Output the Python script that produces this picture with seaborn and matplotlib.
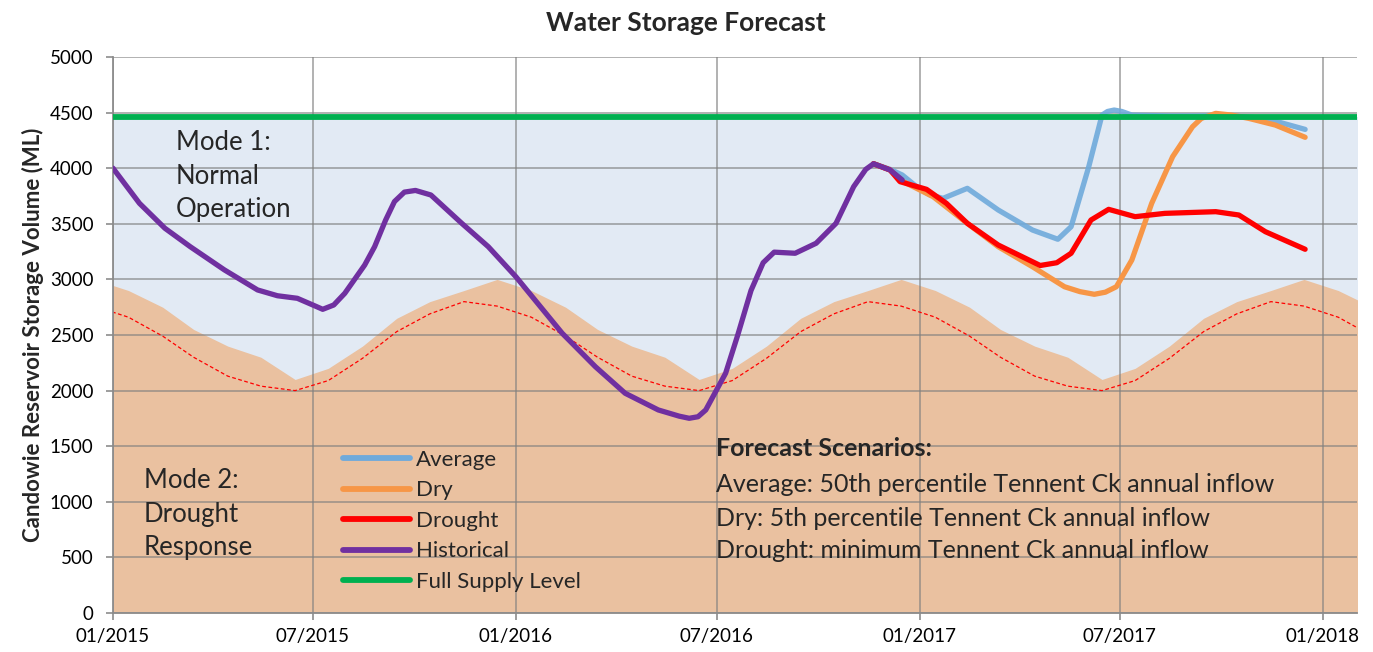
import matplotlib
matplotlib.use('Agg')
import matplotlib.pyplot as plt
import matplotlib.dates as mdates
import pandas as pd
import seaborn as sns

# --- data ---
hist_dates = ['2015-01-01', '2015-01-25', '2015-02-17', '2015-03-12', '2015-04-12',
              '2015-05-12', '2015-05-30', '2015-06-17', '2015-07-01', '2015-07-10',
              '2015-07-20', '2015-07-30', '2015-08-17', '2015-08-26', '2015-09-05',
              '2015-09-13', '2015-09-22', '2015-10-02', '2015-10-16', '2015-11-13',
              '2015-12-07', '2016-01-01', '2016-02-12', '2016-03-13', '2016-04-09',
              '2016-05-09', '2016-05-28', '2016-06-06', '2016-06-14', '2016-06-21',
              '2016-07-09', '2016-07-20', '2016-08-01', '2016-08-12', '2016-08-22',
              '2016-09-10', '2016-09-29', '2016-10-17', '2016-11-02', '2016-11-13',
              '2016-11-20', '2016-12-05', '2016-12-16']
hist_values = [4000, 3684, 3460, 3294, 3085,
               2905, 2853, 2830, 2770, 2731,
               2770, 2875, 3129, 3294, 3534,
               3700, 3785, 3800, 3759, 3504,
               3294, 3024, 2515, 2215, 1976,
               1826, 1770, 1751, 1765, 1826,
               2156, 2500, 2900, 3150, 3245,
               3235, 3325, 3504, 3834, 3990,
               4040, 3984, 3894]

avg_dates = ['2016-11-20', '2016-12-05', '2016-12-16', '2016-12-29', '2017-01-10',
             '2017-01-22', '2017-02-13', '2017-03-13', '2017-04-13', '2017-05-06',
             '2017-05-18', '2017-06-03', '2017-06-15', '2017-06-20', '2017-06-26',
             '2017-07-03', '2017-07-12', '2017-08-15', '2017-10-11', '2017-11-10',
             '2017-12-16']
avg_values = [4040, 3990, 3939, 3834, 3760,
              3729, 3819, 3624, 3444, 3361,
              3474, 4014, 4478, 4510, 4523,
              4510, 4478, 4470, 4469, 4448,
              4349]

dry_dates = ['2016-11-20', '2016-12-05', '2016-12-14', '2017-01-13', '2017-02-13',
             '2017-03-13', '2017-04-13', '2017-05-12', '2017-05-26', '2017-06-08',
             '2017-06-18', '2017-06-28', '2017-07-12', '2017-07-30', '2017-08-18',
             '2017-09-05', '2017-09-13', '2017-09-26', '2017-10-10', '2017-10-26',
             '2017-11-19', '2017-12-16']
dry_values = [4040, 3984, 3894, 3744, 3504,
              3294, 3114, 2934, 2890, 2866,
              2885, 2934, 3174, 3684, 4104,
              4373, 4448, 4493, 4478, 4448,
              4388, 4278]

drought_dates = ['2016-11-20', '2016-12-05', '2016-12-14', '2017-01-07', '2017-01-25',
                 '2017-02-13', '2017-03-13', '2017-04-20', '2017-05-05', '2017-05-18',
                 '2017-06-05', '2017-06-21', '2017-07-15', '2017-08-11', '2017-09-26',
                 '2017-10-17', '2017-11-10', '2017-12-16']
drought_values = [4040, 3984, 3879, 3810, 3684,
                  3504, 3309, 3125, 3150, 3235,
                  3534, 3630, 3564, 3594, 3609,
                  3579, 3429, 3271]

fsl_dates = ['2014-12-01', '2018-03-01']
fsl_values = [4460, 4460]

# mid-month seasonal curves, Dec 2014 .. Feb 2018
month_dates = pd.date_range('2014-12-01', '2018-02-01', freq='MS') + pd.Timedelta(days=14)
mode2_values = [3000,
                2900, 2750, 2550, 2400, 2300, 2100, 2200, 2400, 2650, 2800, 2900, 3000,
                2900, 2750, 2550, 2400, 2300, 2100, 2200, 2400, 2650, 2800, 2900, 3000,
                2900, 2750, 2550, 2400, 2300, 2100, 2200, 2400, 2650, 2800, 2900, 3000,
                2900, 2750]
trigger_values = [2760,
                  2660, 2490, 2300, 2130, 2040, 2000, 2090, 2290, 2530, 2690, 2800, 2760,
                  2660, 2490, 2300, 2130, 2040, 2000, 2090, 2290, 2530, 2690, 2800, 2760,
                  2660, 2490, 2300, 2130, 2040, 2000, 2090, 2290, 2530, 2690, 2800, 2760,
                  2660, 2490]

series_order = ['Average', 'Dry', 'Drought', 'Historical', 'Full Supply Level']
palette = {'Average': '#6FAADB', 'Dry': '#F79646', 'Drought': '#FF0000',
           'Historical': '#7030A0', 'Full Supply Level': '#00B050'}
series_data = {'Average': (avg_dates, avg_values),
               'Dry': (dry_dates, dry_values),
               'Drought': (drought_dates, drought_values),
               'Historical': (hist_dates, hist_values),
               'Full Supply Level': (fsl_dates, fsl_values)}

scenario_lines = ['Average: 50th percentile Tennent Ck annual inflow',
                  'Dry: 5th percentile Tennent Ck annual inflow',
                  'Drought: minimum Tennent Ck annual inflow']

sns.set_theme(style='white')
plt.rcParams['font.family'] = ['Lato', 'DejaVu Sans']

W, H = 1373, 652
fig = plt.figure(figsize=(W / 100, H / 100), dpi=100)
ax = fig.add_axes([113 / W, 1 - 613 / H, (1357 - 113) / W, (613 - 57) / H])

# background zones
ax.fill_between(pd.to_datetime(fsl_dates), 0, fsl_values, color='#E2EAF4', lw=0, zorder=1)
ax.fill_between(month_dates, 0, mode2_values, color='#EAC1A0', lw=0, zorder=1.1)

sns.lineplot(x=month_dates, y=trigger_values, color='#FF0000', lw=0.9,
             ax=ax, zorder=2, legend=False)
ax.lines[-1].set_dashes([3, 2])

for name in series_order:
    d, v = series_data[name]
    df = pd.DataFrame({'date': pd.to_datetime(d), 'volume': v})
    lw = 4.2 if name == 'Full Supply Level' else 3.8
    alpha = 0.9 if name == 'Average' else 1.0
    sns.lineplot(data=df, x='date', y='volume', color=palette[name], lw=lw,
                 alpha=alpha, label=name, ax=ax, zorder=3, sort=False,
                 solid_capstyle='round', solid_joinstyle='round')

ax.set_xlim(pd.Timestamp('2015-01-01'), pd.Timestamp('2018-02-01'))
ax.set_ylim(0, 5000)
ax.set_yticks(range(0, 5001, 500))
ax.xaxis.set_major_locator(mdates.MonthLocator(bymonth=[1, 7]))
ax.xaxis.set_major_formatter(mdates.DateFormatter('%m/%Y'))

ax.set_axisbelow('line')
ax.grid(True, color='#7F7F7F', alpha=0.65, lw=1.3)
for s in ['top', 'right']:
    ax.spines[s].set_visible(False)
for s in ['left', 'bottom']:
    ax.spines[s].set_color('#8C8C8C')
    ax.spines[s].set_linewidth(1.3)
ax.tick_params(direction='out', length=5, width=1.2, color='#8C8C8C',
               labelsize=13.5, labelcolor='black', bottom=True, left=True)
ax.tick_params(axis='y', pad=9)
ax.tick_params(axis='x', pad=6)

ax.set_xlabel('')
ax.set_ylabel('Candowie Reservoir Storage Volume (ML)', fontsize=16,
              fontweight='bold', labelpad=4)
fig.text(686 / W, 1 - 23 / H, 'Water Storage Forecast', ha='center', va='center',
         fontsize=19, fontweight='bold')

for i, line in enumerate(['Mode 1:', 'Normal', 'Operation']):
    fig.text(176 / W, 1 - (143 + 33.5 * i) / H, line, ha='left', va='center', fontsize=18.5)
for i, line in enumerate(['Mode 2:', 'Drought', 'Response']):
    fig.text(144 / W, 1 - (481 + 33.5 * i) / H, line, ha='left', va='center', fontsize=18.5)

fig.text(716 / W, 1 - 449 / H, 'Forecast Scenarios:', ha='left', va='center',
         fontsize=18, fontweight='bold')
for i, line in enumerate(scenario_lines):
    fig.text(716 / W, 1 - (485 + 33 * i) / H, line, ha='left', va='center', fontsize=18)

handles, labels = ax.get_legend_handles_labels()
leg = ax.legend(handles, labels, loc='upper left',
                bbox_to_anchor=(343 / W, 1 - 450 / H), bbox_transform=fig.transFigure,
                frameon=False, fontsize=16, handlelength=3.0, handletextpad=0.28,
                labelspacing=0.47, borderpad=0, borderaxespad=0)
for h in leg.legend_handles:
    h.set_linewidth(4.2)
    h.set_alpha(1)

fig.savefig('out.png', dpi=100)
